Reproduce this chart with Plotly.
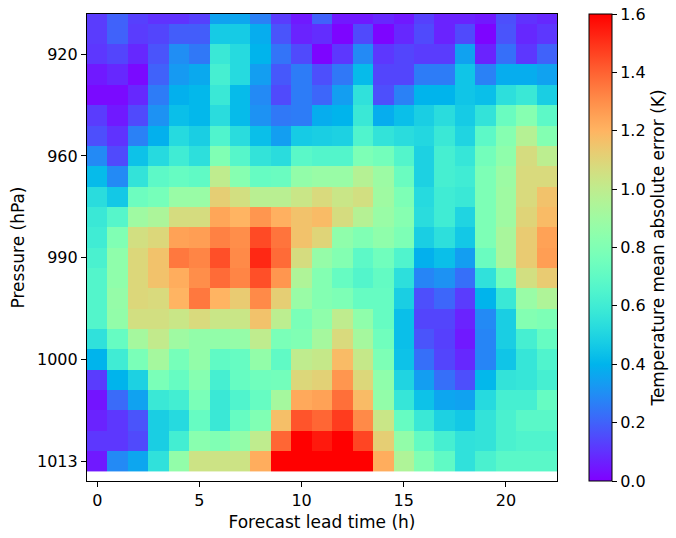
import numpy as np
import plotly.graph_objects as go

# Forecast lead time (h) columns
lead_time = list(range(23))
# Pressure row indices (0 = 1013 hPa at bottom)
rows = list(range(23))
pressure_tick_rows = [0, 5, 10, 15, 20]
pressure_tick_labels = ["1013", "1000", "990", "960", "920"]
x_ticks = [0, 5, 10, 15, 20]
cbar_ticks = [0, 0.2, 0.4, 0.6, 0.8, 1.0, 1.2, 1.4, 1.6]

# Temperature MAE (K), row k=0 (bottom) to k=22 (top)
mae = [
    [0.05,0.29,0.36,0.55,0.86,1.04,1.04,1.04,1.22,1.6,1.6,1.6,1.6,1.6,1.22,0.95,0.8,0.7,0.55,0.63,0.68,0.68,0.68],
    [0.11,0.11,0.15,0.48,0.61,0.83,0.8,0.86,1.0,1.39,1.6,1.55,1.6,1.46,1.12,0.86,0.71,0.62,0.55,0.56,0.63,0.65,0.65],
    [0.07,0.11,0.17,0.48,0.52,0.72,0.58,0.72,0.8,1.17,1.43,1.39,1.48,1.31,1.03,0.72,0.58,0.49,0.46,0.56,0.63,0.68,0.68],
    [0.04,0.22,0.35,0.58,0.61,0.78,0.58,0.65,0.72,0.92,1.23,1.25,1.37,1.18,0.86,0.57,0.44,0.36,0.35,0.52,0.62,0.62,0.72],
    [0.12,0.4,0.49,0.78,0.72,0.82,0.62,0.72,0.75,0.76,1.09,1.11,1.28,1.09,0.85,0.5,0.34,0.23,0.16,0.41,0.56,0.57,0.62],
    [0.4,0.6,0.78,0.92,0.77,0.86,0.7,0.72,0.86,0.7,1.0,1.02,1.18,1.02,0.79,0.44,0.23,0.14,0.08,0.28,0.45,0.57,0.65],
    [0.55,0.72,0.92,1.01,0.9,0.86,0.86,0.87,1.0,0.78,0.8,0.92,1.08,0.92,0.75,0.43,0.17,0.13,0.05,0.28,0.48,0.62,0.72],
    [0.66,0.86,1.06,1.06,1.03,1.08,1.03,1.03,1.16,0.99,0.78,0.85,1.0,0.85,0.72,0.43,0.14,0.14,0.07,0.29,0.48,0.81,0.79],
    [0.66,0.87,1.09,1.08,1.2,1.35,1.2,1.13,1.31,1.12,0.88,0.81,0.79,0.72,0.72,0.48,0.16,0.21,0.12,0.4,0.58,0.88,0.95],
    [0.66,0.85,1.09,1.16,1.22,1.3,1.38,1.32,1.44,1.28,0.95,0.81,0.72,0.66,0.71,0.54,0.28,0.31,0.23,0.55,0.76,1.06,1.13],
    [0.63,0.85,1.09,1.16,1.35,1.32,1.44,1.31,1.52,1.38,1.07,0.87,0.81,0.69,0.75,0.65,0.39,0.43,0.34,0.73,0.93,1.13,1.26],
    [0.6,0.8,1.06,1.09,1.25,1.26,1.33,1.3,1.45,1.36,1.16,1.1,0.85,0.8,0.85,0.79,0.48,0.54,0.46,0.79,0.93,1.13,1.25],
    [0.58,0.67,0.9,0.94,1.07,1.07,1.24,1.2,1.28,1.21,1.16,1.18,1.07,0.97,0.88,0.82,0.53,0.6,0.5,0.79,0.9,1.1,1.18],
    [0.53,0.46,0.74,0.77,0.88,0.88,1.12,1.06,0.98,0.98,1.03,1.08,1.03,1.06,0.9,0.79,0.52,0.6,0.58,0.79,0.9,1.08,1.16],
    [0.42,0.29,0.56,0.69,0.72,0.7,1.0,0.82,0.72,0.73,0.86,0.88,0.88,0.97,0.89,0.73,0.49,0.62,0.6,0.79,0.89,1.08,1.08],
    [0.29,0.15,0.44,0.52,0.6,0.54,0.8,0.67,0.56,0.53,0.68,0.66,0.66,0.79,0.76,0.66,0.49,0.62,0.57,0.76,0.85,1.07,0.99],
    [0.16,0.1,0.27,0.39,0.52,0.48,0.65,0.53,0.43,0.34,0.47,0.48,0.49,0.65,0.56,0.53,0.51,0.58,0.5,0.69,0.82,0.97,0.81],
    [0.12,0.05,0.15,0.31,0.43,0.41,0.53,0.42,0.31,0.25,0.26,0.38,0.4,0.58,0.38,0.43,0.48,0.53,0.47,0.56,0.73,0.82,0.69],
    [0.02,0.02,0.08,0.26,0.39,0.41,0.58,0.42,0.29,0.15,0.26,0.21,0.34,0.55,0.16,0.27,0.4,0.4,0.45,0.43,0.54,0.58,0.48],
    [0.05,0.08,0.02,0.2,0.33,0.37,0.62,0.52,0.34,0.18,0.26,0.16,0.25,0.42,0.14,0.14,0.26,0.26,0.45,0.27,0.38,0.38,0.35],
    [0.11,0.14,0.08,0.17,0.3,0.25,0.58,0.52,0.4,0.24,0.15,0.01,0.11,0.29,0.11,0.14,0.12,0.12,0.35,0.07,0.23,0.11,0.2],
    [0.12,0.2,0.12,0.14,0.19,0.19,0.47,0.47,0.38,0.17,0.07,0.09,0.01,0.15,0.01,0.08,0.15,0.07,0.15,0.01,0.17,0.08,0.11],
    [0.12,0.2,0.13,0.1,0.1,0.13,0.35,0.36,0.27,0.12,0.05,0.2,0.05,0.05,0.08,0.05,0.13,0.07,0.07,0.05,0.16,0.1,0.08],
]

# matplotlib "rainbow" colormap
def rainbow(t):
    r = min(1.0, abs(2 * t - 0.5))
    g = np.sin(np.pi * t)
    b = np.cos(np.pi * t / 2)
    return "rgb(%d,%d,%d)" % (round(r * 255), round(max(g, 0) * 255), round(max(b, 0) * 255))

colorscale = [[t, rainbow(t)] for t in np.linspace(0, 1, 65)]

FONT = "DejaVu Sans"
TICK = 16
LABEL = 17
fig = go.Figure(go.Heatmap(
    x=lead_time, y=rows, z=mae,
    zmin=0, zmax=1.6, colorscale=colorscale,
    colorbar=dict(
        title=dict(text="Temperature mean absolute error (K)", side="right",
                   font=dict(family=FONT, size=LABEL, color="black")),
        thickness=23, len=1, lenmode="fraction", y=0.5, yanchor="middle",
        x=1.068, xanchor="left", xpad=0, ypad=0,
        outlinecolor="black", outlinewidth=1,
        tickmode="array", tickvals=cbar_ticks,
        tickformat=".1f", ticks="outside", ticklen=5, tickcolor="black",
        tickfont=dict(family=FONT, size=TICK, color="black"),
    ),
))

fig.update_layout(
    width=676, height=538,
    margin=dict(l=87, r=119, t=14, b=57, autoexpand=False),
    paper_bgcolor="white", plot_bgcolor="white",
    font=dict(family=FONT, size=TICK, color="black"),
    xaxis=dict(
        range=[-0.5, 22.5], tickmode="array", tickvals=x_ticks,
        ticks="outside", ticklen=5, tickcolor="black",
        showline=True, linecolor="black", linewidth=1.2, mirror=True,
        showgrid=False, zeroline=False,
        title=dict(text="Forecast lead time (h)", font=dict(size=LABEL), standoff=6),
    ),
    yaxis=dict(
        range=[-0.98, 21.98], tickmode="array", tickvals=pressure_tick_rows,
        ticktext=pressure_tick_labels,
        ticks="outside", ticklen=5, tickcolor="black",
        showline=True, linecolor="black", linewidth=1.2, mirror=True,
        showgrid=False, zeroline=False,
        title=dict(text="Pressure (hPa)", font=dict(size=LABEL), standoff=8),
    ),
)

fig.write_html("out.html")
